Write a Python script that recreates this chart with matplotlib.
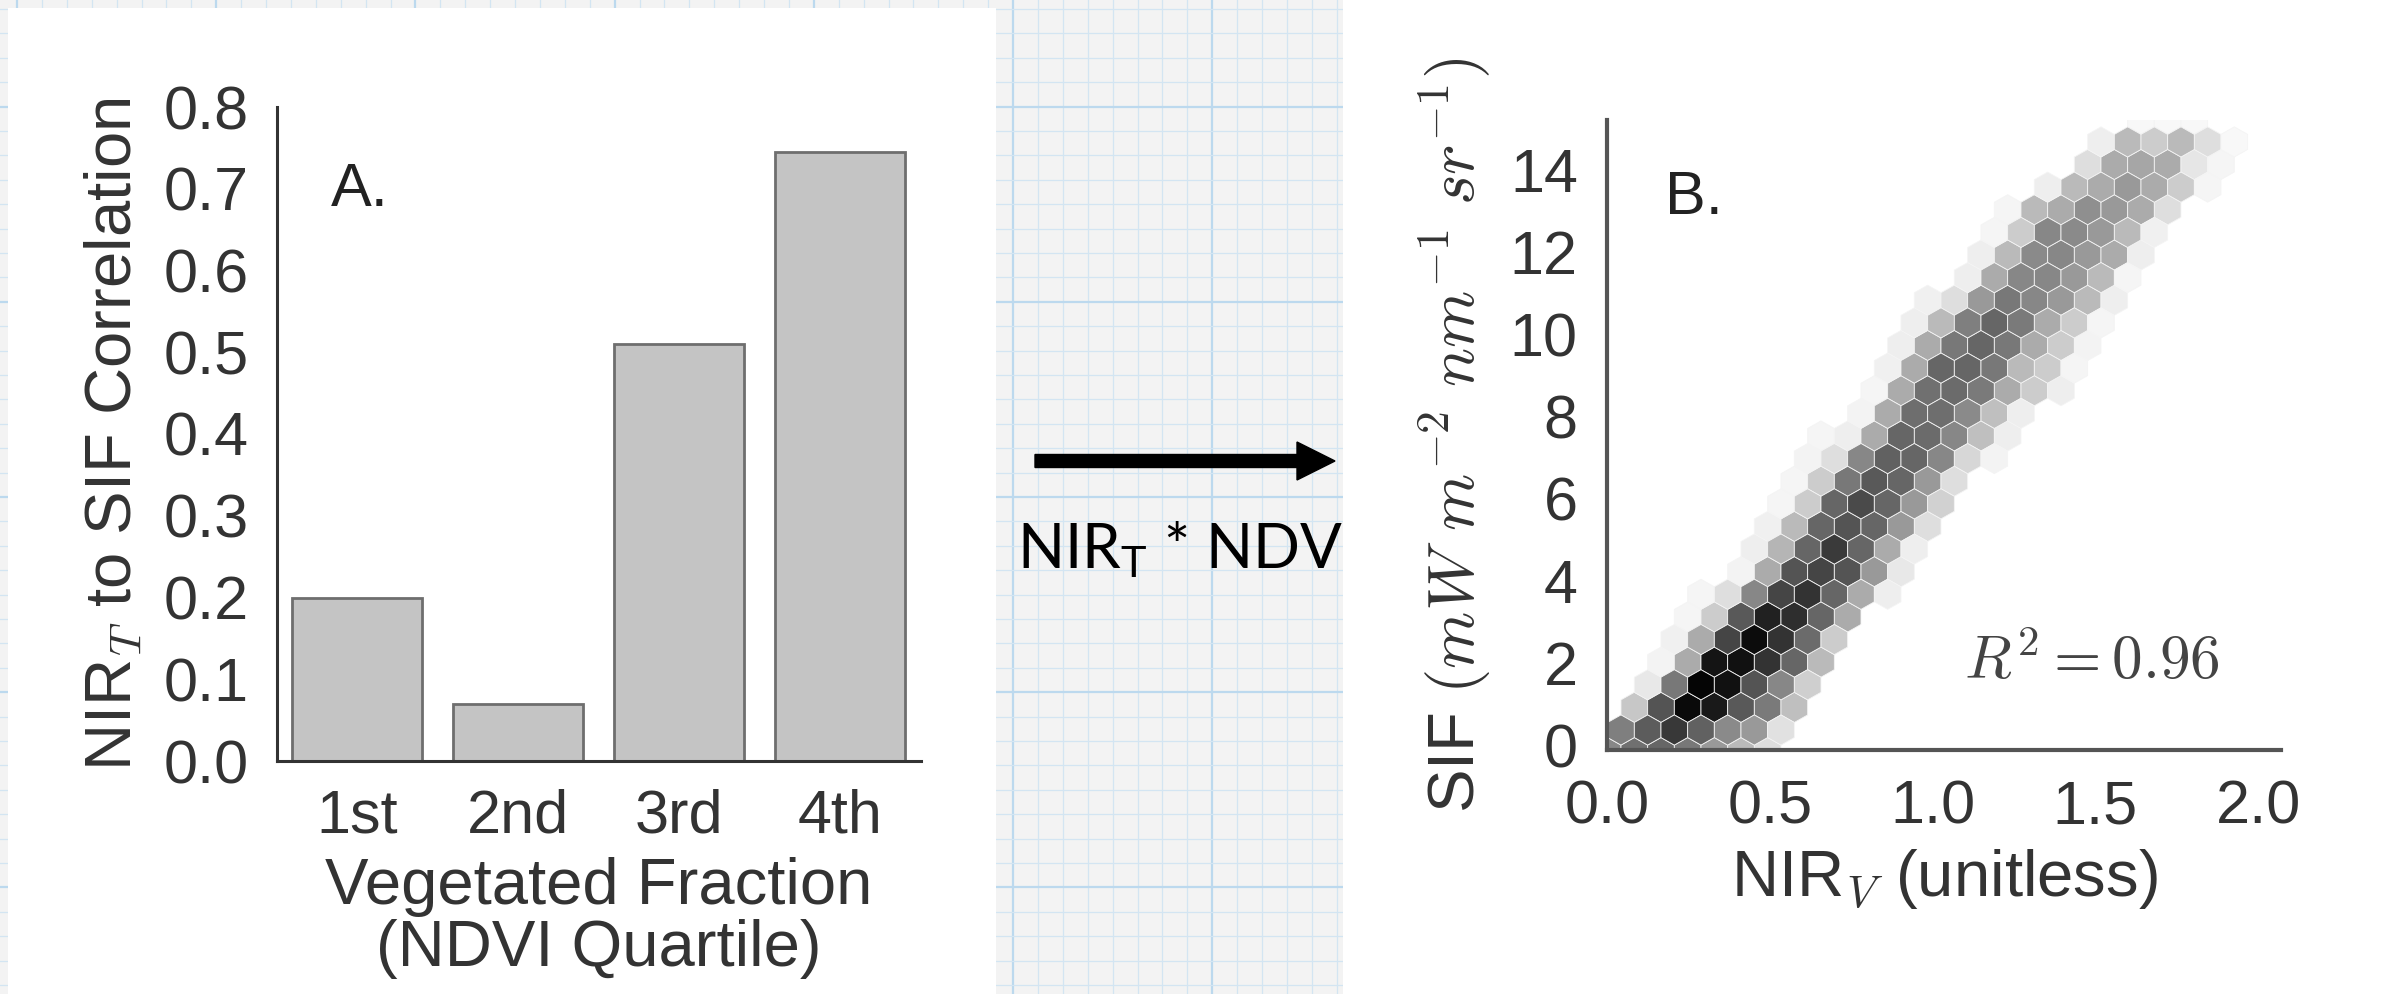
import numpy as np
import matplotlib
matplotlib.use('Agg')
import matplotlib.pyplot as plt
from matplotlib.colors import LinearSegmentedColormap
from matplotlib.patches import Rectangle, FancyArrow

plt.rcParams['font.family'] = ['Liberation Sans', 'DejaVu Sans']
plt.rcParams['mathtext.fontset'] = 'cm'

# panel A: NIR_T to SIF correlation per NDVI quartile
quartiles = ['1st', '2nd', '3rd', '4th']
correlation = [0.20, 0.07, 0.51, 0.745]
corr_ticks = [0.0, 0.1, 0.2, 0.3, 0.4, 0.5, 0.6, 0.7, 0.8]

# panel B: NIR_V vs SIF hexbin, relative density (% of densest cell)
# one list per hex row from the bottom; hex_row_start is the first half-column
hex_row_start = [0, 1, 2, 3, 4, 5, 6, 7, 10, 11, 12, 13, 14, 15, 16,
                 19, 20, 21, 22, 23, 24, 27, 28, 29, 30, 33, 36, 37, 40]
hex_density = [
    [47, 56, 60, 53, 40, 27, 13],
    [50, 64, 78, 62, 46, 40, 12],
    [22, 67, 96, 90, 65, 52, 25],
    [9, 53, 98, 93, 67, 47, 19],
    [5, 33, 92, 93, 80, 60, 27],
    [6, 33, 73, 95, 80, 58, 20],
    [4, 20, 65, 87, 82, 60, 33],
    [4, 13, 47, 73, 80, 60, 33, 7],
    [5, 33, 67, 73, 67, 40, 9],
    [7, 29, 60, 77, 60, 33, 7],
    [6, 27, 60, 67, 60, 40, 13],
    [4, 20, 60, 71, 60, 40, 18],
    [4, 20, 53, 65, 60, 40, 13],
    [5, 13, 47, 62, 60, 47, 16, 5],
    [4, 7, 33, 60, 58, 47, 25, 7],
    [5, 33, 57, 57, 46, 25, 7],
    [4, 33, 56, 58, 52, 33, 20, 7],
    [6, 33, 60, 60, 53, 27, 20, 4],
    [7, 33, 53, 60, 53, 33, 20, 5],
    [7, 27, 50, 60, 52, 33, 20, 4],
    [6, 13, 40, 53, 47, 40, 27, 7],
    [7, 33, 47, 47, 40, 27, 4],
    [7, 27, 46, 47, 40, 33, 7],
    [4, 20, 47, 46, 40, 27, 6],
    [4, 27, 33, 44, 40, 33, 13],
    [7, 27, 33, 40, 33, 20, 4],
    [13, 33, 35, 33, 10, 4],
    [7, 27, 20, 27, 13, 3],
    [3, 3, 3],
]
nirv_ticks = [0.0, 0.5, 1.0, 1.5, 2.0]
sif_ticks = [0, 2, 4, 6, 8, 10, 12, 14]
r_squared = 0.96

# hex grid used for binning
hex_extent = (0.002, 2.0495, -0.184, 15.237)
hex_grid = (25, 14)

W, H = 2383, 994
fig = plt.figure(figsize=(W / 100, H / 100), dpi=100)
fig.patch.set_facecolor('#f3f3f3')

# graph paper backdrop, in pixel units
bg = fig.add_axes([0, 0, 1, 1])
bg.set_xlim(0, W)
bg.set_ylim(H, 0)
bg.axis('off')
for i, x in enumerate(np.arange(17, W, 24.9)):
    major = i % 8 == 0
    bg.axvline(x, color='#bcd9ee' if major else '#d3e5f2', lw=1.6 if major else 0.9, zorder=0)
for i, y in enumerate(np.arange(9, H, 24.4)):
    major = i % 8 == 4
    bg.axhline(y, color='#bcd9ee' if major else '#d3e5f2', lw=1.6 if major else 0.9, zorder=0)

bg.add_patch(FancyArrow(1035, 461, 300, 0, width=13, head_width=38, head_length=38,
                        length_includes_head=True, color='black', zorder=2))
bg.text(1017, 568, r'NIR$\mathregular{_T}$ * NDVI', family='Lato', fontsize=44.5,
        color='black', ha='left', va='baseline', zorder=2)

bg.add_patch(Rectangle((8, 8), 988, H - 8, facecolor='white', edgecolor='none', zorder=3))
bg.add_patch(Rectangle((1343, 0), W - 1343, H, facecolor='white', edgecolor='none', zorder=3))

ink = '#333333'
tick_fs = 44
label_fs = 47

# panel A
ax1 = fig.add_axes([276.5 / W, 1 - 761 / H, 644 / W, 654 / H])
ax1.set_facecolor('none')
ax1.bar(range(len(quartiles)), correlation, width=0.81, color='#c4c4c4',
        edgecolor='#6e6e6e', linewidth=2)
ax1.set_xlim(-0.5, 3.5)
ax1.set_ylim(0, 0.8)
ax1.set_xticks(range(len(quartiles)))
ax1.set_xticklabels(quartiles)
ax1.set_yticks(corr_ticks)
ax1.set_yticklabels([f'{t:.1f}' for t in corr_ticks])
ax1.tick_params(length=0, labelsize=tick_fs, colors=ink, pad=20)
for s in ['top', 'right']:
    ax1.spines[s].set_visible(False)
for s in ['left', 'bottom']:
    ax1.spines[s].set_color('#333333')
    ax1.spines[s].set_linewidth(2.2)
ax1.set_ylabel(r'NIR$_T$ to SIF Correlation', fontsize=label_fs, color=ink, labelpad=14)
ax1.set_xlabel('Vegetated Fraction\n(NDVI Quartile)', fontsize=label_fs, color=ink,
               labelpad=8, linespacing=1.05)
ax1.text(0.085, 0.872, 'A.', transform=ax1.transAxes, fontsize=44, color='#222222',
         ha='left', va='center')

# panel B
x0, x1, y0, y1 = hex_extent
nx, ny = hex_grid
sx = (x1 - x0) / nx
sy = (y1 - y0) / ny
hx, hy, hc = [], [], []
for r, (h0, dens) in enumerate(zip(hex_row_start, hex_density)):
    for k, d in enumerate(dens):
        hx.append(x0 + (h0 + 2 * k) * sx / 2)
        hy.append(y0 + r * sy / 2)
        hc.append(d)

grays = LinearSegmentedColormap.from_list('paper_grays', ['white', 'black'])
ax2 = fig.add_axes([1607 / W, 1 - 750 / H, 674 / W, 630 / H])
ax2.set_facecolor('none')
ax2.hexbin(hx, hy, C=hc, gridsize=hex_grid, extent=hex_extent, reduce_C_function=np.sum,
           cmap=grays, vmin=0, vmax=100, edgecolors='#f4f4f4', linewidths=0.6)
ax2.set_xlim(0.0, 2.07)
ax2.set_ylim(-0.12, 15.22)
ax2.set_xticks(nirv_ticks)
ax2.set_xticklabels([f'{t:.1f}' for t in nirv_ticks])
ax2.set_yticks(sif_ticks)
ax2.tick_params(length=0, labelsize=tick_fs, colors=ink, pad=21)
for s in ['top', 'right']:
    ax2.spines[s].set_visible(False)
for s in ['left', 'bottom']:
    ax2.spines[s].set_color('#555555')
    ax2.spines[s].set_linewidth(3)
ax2.set_ylabel(r'SIF $(mW\ m^{-2}\ nm^{-1}\ sr^{-1})$', fontsize=label_fs, color=ink,
               labelpad=12)
ax2.set_xlabel(r'NIR$_V$ (unitless)', fontsize=label_fs, color=ink, labelpad=8)
ax2.text(0.086, 0.876, 'B.', transform=ax2.transAxes, fontsize=44, color='#222222',
         ha='left', va='center')
ax2.text(0.909, 0.138, rf'$R^2 = {r_squared:.2f}$', transform=ax2.transAxes,
         fontsize=44, color='#444444', ha='right', va='center')

fig.savefig('out.png', dpi=100, facecolor=fig.get_facecolor())
